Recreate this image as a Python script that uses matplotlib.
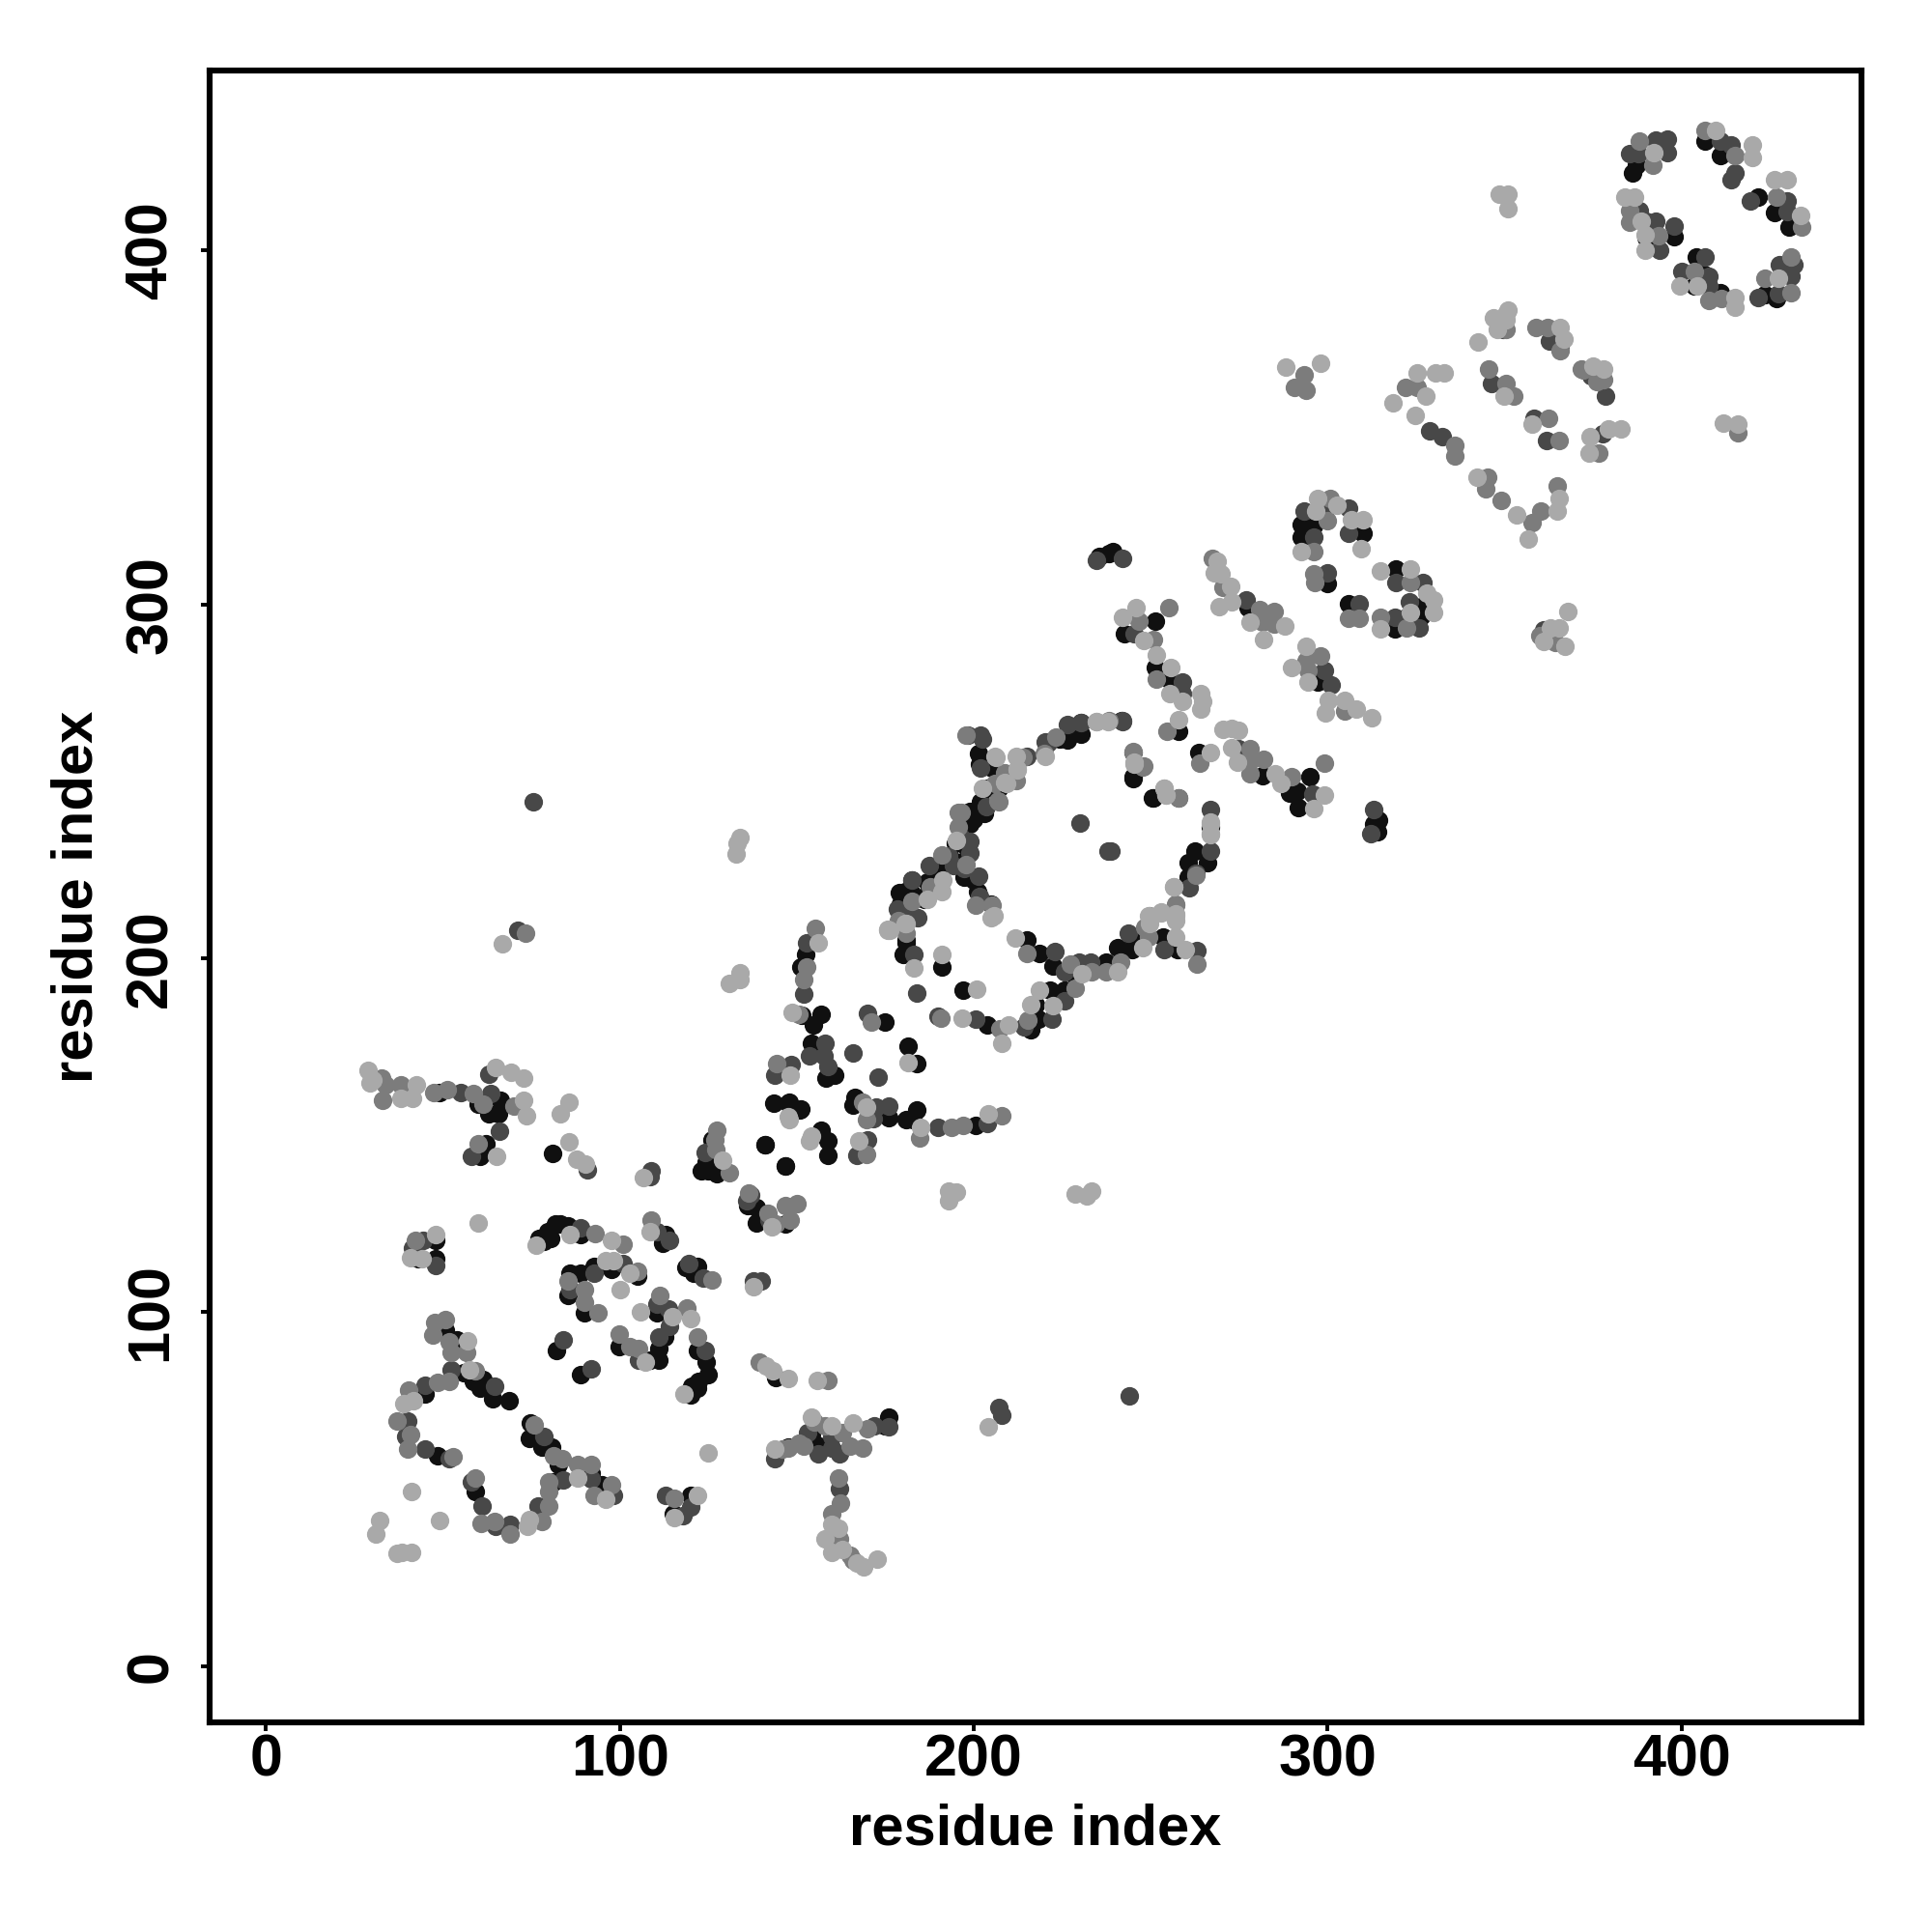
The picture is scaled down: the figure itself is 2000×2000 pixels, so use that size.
import matplotlib
matplotlib.use('Agg')
import matplotlib.pyplot as plt

# Contacts, grouped by how dark the dot is.
black_pts = [
    (49, 162), (60, 158.9), (63, 156), (66.3, 159.9), (65.8, 156), (62.2, 147.7), (60.4, 144.1), (81, 144.8),
    (124.5, 142.4), (126.3, 142.4), (129, 140.6), (127.3, 139.2), (126, 148.8), (143.6, 159.1), (147.7, 159.1),
    (150.9, 157.1), (140.9, 147.2), (146.9, 141.2), (138.6, 129.6), (140.4, 127.2), (138.6, 125.3), (146.8, 124.8),
    (48, 115), (48, 120.4), (43.1, 115), (77.2, 120.9), (79.5, 122.8), (81.8, 124.8), (83.1, 124.8), (85.4, 124.3),
    (89, 121.8), (78.6, 119.9), (80.4, 120.9), (85.9, 111.1), (89, 111.1), (92.7, 113), (97.7, 112.1), (105, 110.2),
    (85.4, 104.8), (90, 99.9), (110.4, 99.9), (112.7, 93.1), (110.9, 89.7), (110.9, 86.3), (108.6, 86.3), (99.9, 90.2),
    (121.8, 89.2), (124.5, 85.8), (125, 82.4), (122.2, 80.4), (120.4, 79), (119.1, 77), (120, 76.5), (121.8, 78.5),
    (82, 89.2), (88.9, 82.2), (113, 121.9), (112.2, 119.4), (121.8, 113), (118.6, 112.6), (120.9, 111.1),
    (50.8, 95), (54, 92.1), (55.8, 82.9), (58.5, 80.4), (61.3, 80.9), (60.4, 78.5), (64, 75.5), (68.6, 75), (44.9, 77),
    (48.5, 59.3), (59, 49.2), (81.3, 52.1), (74.7, 68.7), (74.5, 64.3), (78.1, 61.9), (80.8, 61.9), (82.7, 57),
    (91.8, 54.6), (95, 51.2), (120, 48.2), (115, 42.9), (144.1, 81.4), (147.7, 61.9), (154, 65.8), (176, 70.4),
    (152.4, 201.1), (151, 197.5), (151.3, 183.8), (156.9, 184.3), (154.6, 181.1), (154.2, 176.1), (160.6, 167),
    (158.3, 166.1), (174.9, 182), (181.5, 175.2), (184, 170.2), (190.9, 197.5), (197, 190.9), (203.8, 181.1),
    (218.3, 182.9), (216.1, 179.7), (217.4, 187), (221.5, 191.1), (225.6, 191.1), (222.4, 197.9), (218.6, 201.4),
    (215, 205.2), (228.8, 195.2), (237.5, 199), (240.6, 203), (244.7, 202.5), (244.7, 206.1), (253.4, 206.1),
    (257.5, 202.5), (181, 205.2), (180.1, 201.1), (147.8, 159.3), (151, 157.3), (141, 147.3), (146.9, 141.3),
    (156.9, 151.5), (158.9, 148.4), (158.9, 144.3), (166.5, 160.6), (166, 158.4), (176, 155), (181, 154.3),
    (184, 157.2), (182.9, 154.3), (200.6, 152.9), (292.6, 322.7), (292.6, 319), (296.2, 322.2), (309.9, 320),
    (300, 306), (305.8, 300.2), (319.4, 310), (326.3, 299.5), (319, 293.1), (322.2, 296.3), (326.3, 296.7),
    (277.6, 299), (242.5, 291.7), (251.2, 295.2), (251.2, 282.2), (255.3, 278.5), (239.4, 315), (258, 264.2),
    (263.5, 258.2), (245, 251.2), (250.7, 245.3), (266.9, 237.1), (262.6, 230.3), (260.7, 227.1), (266.2, 227.1),
    (260.7, 223), (297.1, 278), (281.7, 251.7), (289.4, 246.7), (291.5, 247.1), (295.1, 251.2), (291.7, 242.6),
    (314.4, 239.1), (313.1, 238), (314, 235.8), (387.2, 424.1), (386.3, 421.9), (406.8, 431), (410.9, 426.9),
    (421.8, 415.2), (426.4, 410.8), (430.5, 406.8), (423.6, 387.5), (426.8, 386.4), (404.1, 398.2), (406.3, 393.2),
    (403.6, 390), (410.9, 388.2), (398, 403.9), (390, 403.7), (179.1, 218.5), (182.6, 222), (186, 216.7),
    (189.5, 223.7), (194.8, 227.2), (198.3, 230.7), (200, 222), (200, 239.4), (201.7, 255), (224.4, 262),
    (227.9, 264.8), (241.8, 267.2), (203.5, 248), (235.5, 313.6), (238.3, 314.3),
    (201.5, 258), (205.2, 253.9), (226.5, 261.6), (230.2, 263.4), (230.4, 266.6), (207, 248), (202, 244.3), (202.9, 241),
    (198.8, 241.6), (198.8, 237.9), (194.7, 232.5), (191, 225.2), (187, 221.6), (191, 222), (187, 217.9), (182.4, 218.4),
    (180.6, 218.8), (179.2, 215.2), (181, 204.3), (197.4, 223), (201, 218.8), (205, 215.4), (245, 250.7), (250.6, 245.2),
    (123, 140), (125, 140), (136, 130), (158, 62), (175, 68), (155, 63),
]
dark_pts = [
    (55.1, 162), (62.9, 167.2), (63.4, 161.8), (65.9, 151.1), (58, 144.1), (90.7, 140.2), (108.9, 139.9), (108.6, 138.4),
    (41.3, 118), (44.4, 120.4), (48, 113.1), (89, 123.8), (92.7, 111.1), (100.9, 113.6), (85.9, 106.3), (110.4, 102.4),
    (113.6, 100.9), (114, 96), (110.9, 93.1), (105.4, 86.3), (124, 89.2), (84, 92.1), (92, 84.1), (110.4, 122.8),
    (114, 120.4), (119.5, 113.6), (123.6, 109.7), (140, 108.7), (137.7, 108.7), (135.9, 131.5), (52.2, 83.8),
    (64.5, 79), (44.9, 79.4), (39.9, 69.2), (39.4, 64.8), (44.9, 61.2), (51.7, 58.5), (58.1, 52.1), (61, 45.3),
    (64.9, 39.5), (69, 40), (76.8, 45.3), (84, 52.6), (78.6, 64.8), (91.8, 52.9), (98.1, 48.2), (112.9, 48.2),
    (120, 44.8), (117.7, 42.4), (143.8, 58.5), (160, 61.7), (176, 67.6), (207, 73), (208, 71), (243.9, 76.3),
    (152.8, 204.3), (151.9, 189.9), (158, 176.1), (153.7, 172.5), (157.8, 172.5), (158.9, 169.3), (143.7, 167),
    (148.5, 169.9), (166, 173.2), (173, 166.3), (169.9, 184.5), (183.8, 190.2), (190, 183.7), (200.6, 182.9),
    (214.2, 180.7), (222, 182.9), (225.6, 187.9), (225.6, 196.1), (222.9, 202), (229.7, 198.9), (232.9, 198.9),
    (243.8, 207), (253.8, 202.5), (263, 202.2), (183, 201.1), (169.9, 148.8), (166.9, 144.3), (172.4, 157.9),
    (176, 158.1), (171.5, 154.7), (189.9, 152.2), (203.8, 153.4), (293.5, 326.3), (299.4, 326.8), (305.8, 327.2),
    (305.8, 320), (296.2, 319), (300, 309), (309, 300.2), (319.4, 306.3), (327, 306.3), (323.1, 300.8), (319, 296.3),
    (325.8, 293.5), (277.1, 301.3), (299, 281.3), (301, 277.2), (245.3, 291.7), (259.1, 278.1), (259.1, 274.9),
    (242.1, 313.1), (242.1, 267.2), (245, 258.2), (258, 245.3), (266.9, 242.1), (266.9, 230.3), (262.7, 223.9),
    (261, 219.8), (238.9, 230.3), (274.8, 259.2), (295.8, 246.4), (313.1, 242.1), (312.2, 235.3), (392.7, 431.2),
    (395.9, 431.4), (395.9, 427.8), (385.4, 427.3), (387.9, 427.5), (410.9, 431), (414.1, 430), (415, 422),
    (414.1, 420), (419.5, 414.1), (430, 414.1), (430, 410.9), (427.7, 395.9), (431.8, 395.9), (430.9, 392.7),
    (421.8, 386.6), (427.3, 387.7), (406.8, 398.2), (400, 394.1), (407.7, 392.7), (407.7, 390), (388, 411.4),
    (390, 408.2), (392.7, 408.2), (398, 407), (393.9, 400), (362.7, 374.5), (365.8, 373.2), (374.5, 364.5),
    (328.9, 349.1), (332.4, 347.4), (349.5, 377.7), (346.3, 362.4), (358.4, 352.6), (362, 346.3), (378.5, 358.9),
    (377.7, 348.3), (361, 292.7), (71.1, 208), (180.8, 213.2), (184.3, 211.5), (193, 228.9), (197.2, 225.4),
    (201.7, 217.4), (196.5, 234.1), (203.5, 242.9), (202.4, 262), (198.3, 263), (220.9, 261), (230.3, 266.6),
    (230, 238.3), (238, 230.3), (234.8, 312.5), (75.6, 244.3),
    (202, 263), (202, 253.9), (215, 257), (220.2, 261.1), (226.5, 266.2), (242, 267), (198.8, 233), (198.8, 229.8),
    (194.2, 226.1), (187.4, 226.1), (182.4, 222), (178.3, 213.8), (201.5, 223.2),
    (124, 145), (142, 126), (137, 133), (160, 65), (162, 60), (162, 50), (153, 66), (172, 68), (156, 60),
]
mid_pts = [
    (32.7, 166.2), (33.7, 164.3), (33, 160), (38, 164.3), (47.3, 162), (51.2, 163), (58.5, 161.8), (61.3, 158.9),
    (70, 158.1), (59.9, 147.7), (42.2, 120.4), (93, 122.1), (100.9, 119.2), (105, 111.6), (85.4, 108.7), (90, 106.3),
    (90, 102.8), (93.9, 99.9), (111.3, 104.8), (118.9, 101.2), (105.4, 89.7), (102.7, 90.2), (99.8, 93.9), (122, 93.1),
    (108.9, 126), (125.9, 109.2), (127.4, 151.3), (126.8, 148.8), (130.9, 139.5), (136.4, 133.7), (141.8, 127.8),
    (146.8, 130.1), (150, 130.7), (47.6, 97), (50.8, 98), (47.2, 93.6), (51.7, 91.6), (56.7, 88.7), (52.2, 88.7),
    (59, 83.3), (51.7, 80.4), (48.5, 80.1), (40.3, 78), (37, 69.2), (40.8, 65.3), (39.9, 61.2), (52.9, 59), (59, 53.1),
    (60.8, 40.2), (64.7, 40.9), (69, 37.2), (78.1, 40.9), (79.9, 45.3), (79.9, 49.2), (79.9, 52.1), (75.8, 68.2),
    (81.3, 59.5), (83.6, 58.5), (88.1, 57), (91.8, 57), (92.7, 48.2), (97.7, 51.2), (115.4, 47.3), (139.5, 85.8),
    (145.9, 61.4), (150.6, 62.9), (155, 69), (161.7, 53), (162.4, 46), (165, 31.4), (147.7, 61.7), (170, 67),
    (158.9, 80.8), (168.6, 61.7), (73.2, 207),
    (155.1, 208.4), (152.8, 197.5), (151.9, 193.9), (150.5, 184.3), (144.2, 170.2), (171, 182), (190.8, 183.2),
    (207.4, 180.2), (215.2, 182.5), (228.8, 191.6), (227.4, 198.4), (233.4, 196.1), (237.5, 196.1), (241.5, 198.9),
    (249.3, 206.1), (215, 201.4), (263, 198.4), (169.7, 144.7), (168.7, 159.3), (169.7, 154.3), (184.7, 149.3),
    (193.8, 152.3), (196.9, 152.9), (207.9, 155.4), (300.8, 330), (299.9, 323.6), (296, 315), (296, 308.6), (296.3, 306.3),
    (305.8, 296.1), (309, 296.1), (323.5, 306.3), (314.9, 296.3), (322.2, 293.5), (267.3, 313.1),
    (270.3, 304.9), (280.8, 298.6), (284.9, 298.1), (281.7, 294.9), (284.9, 294.5), (294, 284), (297.9, 285.4),
    (294.4, 281.3), (304.9, 269.9), (255.1, 299.2), (246.6, 295.4), (250.7, 290.2), (251.6, 279), (254.6, 264.2),
    (263.9, 255.1), (248, 254.2), (257.1, 215.3), (249.6, 212.1), (278, 259.2), (278.5, 256.2), (281.9, 256.2),
    (278, 252.1), (289.9, 251.2), (299, 255.2), (388, 431), (392, 424.1), (406.8, 434), (415, 427), (426.8, 415),
    (433.9, 406.8), (430.9, 398.2), (423.6, 392.1), (430.9, 388.2), (403.6, 394.1), (407.7, 385.9), (411.3, 386.4),
    (385.4, 411.4), (385.4, 407.9), (393.6, 404.1), (350.4, 377.7), (359, 378.2), (362.2, 378.2), (365.8, 371.8),
    (372.2, 366.2), (378.1, 363.6), (293.4, 364.8), (294, 360.6), (290.6, 361.3), (322, 361.3), (325.4, 361.3),
    (335.9, 345), (335.9, 342), (345.3, 335.9), (344.6, 332.8), (349.1, 329.3), (357.8, 323), (360.3, 326.3),
    (364.8, 333.4), (345.6, 366.5), (350.5, 362.4), (352.6, 358.9), (362.4, 352.6), (365.5, 346.3), (371.8, 366.5),
    (376, 363), (376.7, 342.9), (359.9, 291.3), (364.4, 289.2), (416, 348.4), (187.8, 220.2), (205.2, 215),
    (196.5, 241.1), (206.9, 244.6), (214, 256.8), (219.9, 257.8), (238.3, 267.2),
    (197.9, 263.1), (223.3, 262.5), (212, 250.2), (208.8, 252.5), (206, 249.3), (207, 244.3), (195.6, 241.1), (195.6, 237),
    (197.9, 226.6), (191, 229.3), (182.4, 216.1), (178.8, 210.6), (181, 207), (200.6, 215), (245, 258.4), (247.9, 254.1),
    (257.9, 245.2), (262.9, 223.4), (257, 215), (248.4, 208.8),
    (127, 146), (144, 125), (148, 126), (158, 68), (165, 62), (162, 36), (166, 30), (160, 43), (163, 66), (152, 62),
]
light_pts = [
    (28.8, 168.2), (30.3, 165.7), (29.3, 164.8), (38, 160.4), (41.5, 160.4), (42.5, 164.3), (64.9, 169.1), (72.7, 159.9),
    (73.7, 155.5), (69.3, 167.7), (72.7, 166.2), (65.1, 144.1), (85.6, 159.2), (83.2, 156), (85.6, 148), (87.8, 143.3),
    (90.2, 141.8), (106.6, 138.1), (147.7, 155.1), (154.1, 149.7), (47.9, 122), (40.8, 115.5), (44, 115), (59.9, 125.3),
    (76.3, 118.9), (85.9, 121.9), (97.7, 120.2), (95.9, 114.5), (98.1, 114.5), (102.7, 111.1), (100, 106.3), (105.9, 100.2),
    (114.8, 98.7), (120, 98.3), (107.2, 85.8), (118.2, 77), (108.6, 122.8), (137.7, 107.2), (56.9, 91.8), (57.6, 83.8),
    (39, 74.1), (41.7, 75), (74.5, 41.4), (74, 39.5), (88.1, 53.1), (95.9, 47.2), (41, 49.2), (49, 41.2), (32, 41.1),
    (31, 37.2), (36.9, 31.7), (41, 32.1), (38.5, 32.1), (125, 60.2), (122, 48.2), (115.4, 41.9), (141.4, 84.8),
    (143.2, 83.3), (147.7, 81.2), (143.8, 61.4), (154, 70.2), (161.7, 39), (160, 32), (167, 29), (172.8, 30.3),
    (166, 68.6), (155.7, 80.8), (204, 67.6), (66.9, 204.2), (133.1, 232.4), (133.8, 234.1), (132.8, 229.6),
    (131, 193), (133.8, 194), (133.8, 195.8), (156, 204.3), (148.7, 184.8), (148, 167), (181.5, 170.6), (190.9, 201.1),
    (200.9, 191.3), (196.8, 183.2), (209.7, 181.1), (207.9, 176.1), (216.1, 187), (218.6, 191.1), (222.4, 186.6),
    (211.7, 205.7), (230.6, 195.7), (240.6, 196.1), (247.9, 203), (249.7, 209.8), (257, 206.1), (259.7, 202.5),
    (257, 210.7), (175.6, 208.1), (180.6, 209.8), (183, 197.2), (205, 211.6), (147.8, 154.3), (153.5, 148.4),
    (167.4, 148.4), (169.7, 157.9), (185, 152.2), (204, 156.1), (193, 131.5), (193, 134.2), (195.1, 133.8),
    (228.8, 133.3), (232, 132.9), (233.3, 134.2), (297.1, 330), (296.7, 326.3), (302.6, 328.1), (306.7, 324),
    (309.9, 324), (309.4, 315.8), (292.6, 315), (314.9, 309.5), (323.5, 310.1), (328.1, 303.1), (329.9, 301.3),
    (329.9, 297.6), (314.9, 293.1), (323.5, 297.6), (268.9, 312.2), (269.8, 308.6), (268, 309), (272.6, 305.2),
    (269.4, 299.5), (273, 300.8), (278, 294.9), (288, 294), (282, 290.1), (294, 288.3), (289.9, 282.2), (294.4, 278),
    (300.3, 273), (304.9, 273), (299.4, 269.4), (308.1, 270.3), (312.6, 268.1), (246, 299.2), (242.1, 296.3),
    (248, 289.9), (251.6, 285.8), (255.7, 282.2), (255.3, 274.9), (259.1, 272.6), (264.2, 274.9), (264.8, 272.6),
    (264.2, 270.3), (258, 267.4), (266.9, 258.2), (245.3, 255.3), (253.9, 248.1), (254.4, 246.2), (266.9, 238.5),
    (266.9, 234.9), (256.6, 220.3), (257.1, 212.6), (253, 213), (270.3, 264.6), (273, 264.9), (274.8, 264.4),
    (273, 259.4), (274.4, 255.3), (285.3, 252.1), (286.7, 249.4), (299, 246.2), (296, 242.4), (392.2, 427.8),
    (409.8, 434), (420, 430), (420, 426.4), (426.4, 420), (429.8, 420), (433.8, 410), (427.3, 392.3), (399.7, 390),
    (404.5, 390), (415, 386.8), (415, 384.1), (383.9, 415.2), (386.6, 415.2), (388.6, 408.2), (389.8, 404.6),
    (389.8, 400), (351, 416), (348.5, 416), (351, 411.9), (351, 383.2), (350.4, 380.4), (348.1, 377.7), (365.8, 378.2),
    (366.8, 375), (374.9, 367.3), (378.1, 366.4), (288.2, 367.2), (297.9, 368.3), (318.5, 357.1), (325.4, 365.5),
    (330.6, 365.5), (333, 365.5), (324.7, 353.3), (327.9, 358.9), (342.2, 335.9), (353.3, 325.4), (356.8, 318.5),
    (364.8, 326.3), (365.5, 330), (342.5, 374.2), (347, 381), (350.5, 382.2), (349.8, 358.9), (357.8, 350.9),
    (374.2, 347.4), (379.4, 349.6), (382.9, 349.6), (373.9, 342.9), (363, 293.4), (365.5, 293.4), (368, 297.9),
    (367.1, 288.2), (361, 289.5), (411.8, 351.2), (416, 350.9), (176.3, 208), (191.3, 222), (208.7, 249.8),
    (212.2, 253.3), (206.3, 256.8), (234.8, 266.9),
    (205.9, 257), (212, 257), (220.2, 257), (234.7, 267), (237.9, 267), (212.4, 253.4), (209.2, 249.3), (202.4, 248),
    (195.1, 233.4), (191, 218.8), (187, 216.6), (181, 209.7), (175.6, 208), (205.6, 212), (245.2, 254.8), (253.8, 248),
    (254.3, 246.1), (266.8, 238), (266.8, 235.2), (256.6, 220.2), (257, 212), (252.9, 212.9), (249.3, 212),
    (129, 143), (143, 124), (160, 40), (158, 36), (163, 33), (169, 28), (160, 68),
]

tick_values = [0, 100, 200, 300, 400]
dot_groups = [(black_pts, '#101010'), (dark_pts, '#484848'), (mid_pts, '#7c7c7c'), (light_pts, '#a9a9a9')]

plt.rcParams['font.family'] = ['Liberation Sans', 'DejaVu Sans']
plt.rcParams['font.weight'] = 'bold'

fig = plt.figure(figsize=(10, 10), dpi=200)
ax = fig.add_axes([0.1084, 0.1084, 0.8553, 0.8553])

for pts, color in dot_groups:
    xs, ys = zip(*pts)
    ax.scatter(xs, ys, s=48, c=color, linewidths=0, zorder=2)

ax.set_xlim(-16, 451)
ax.set_ylim(-16, 451)
ax.set_xticks(tick_values)
ax.set_yticks(tick_values)
ax.tick_params(length=3.2, width=1.4, labelsize=22)
ax.tick_params(axis='x', pad=0.8)
ax.tick_params(axis='y', pad=8)
for lab in ax.get_yticklabels():
    lab.set_rotation(90)
    lab.set_va('center')
for side in ax.spines.values():
    side.set_linewidth(2.2)

ax.set_xlabel('residue index', fontsize=21.5, fontweight='bold')
ax.set_ylabel('residue index', fontsize=21.5, fontweight='bold')
ax.xaxis.set_label_coords(0.5, -0.065, transform=ax.transAxes)
ax.xaxis.label.set_va('center')
ax.yaxis.set_label_coords(-0.08, 0.5, transform=ax.transAxes)
ax.yaxis.label.set_va('center')

fig.savefig('out.png', dpi=200)
